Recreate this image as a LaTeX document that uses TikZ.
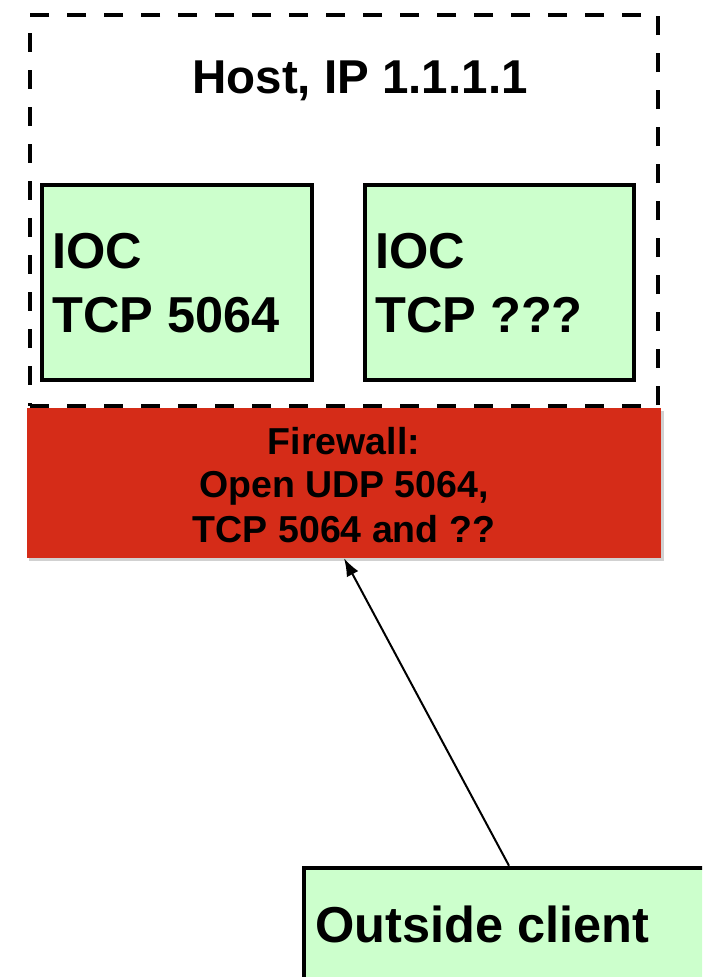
\documentclass[tikz,border=0pt]{standalone}
\usepackage{fontspec}
\setmainfont{Liberation Sans}
\usetikzlibrary{arrows.meta}
\definecolor{iocgreen}{RGB}{204,255,204}
\definecolor{fwred}{RGB}{213,44,24}
\begin{document}
\begin{tikzpicture}[x=1pt,y=-1pt,
  hostbox/.style={draw=black,line width=4.5pt,dash pattern=on 19pt off 18pt,rectangle,inner sep=0pt},
  greenbox/.style={draw=black,line width=4.5pt,fill=iocgreen,rectangle,inner sep=0pt},
  fwbox/.style={fill=fwred,rectangle,inner sep=0pt},
  bigtxt/.style={font=\fontsize{50.5}{64}\selectfont\bfseries,inner sep=0pt,anchor=base west},
  fwtxt/.style={font=\fontsize{37.5}{44}\selectfont\bfseries,inner sep=0pt,anchor=base},
  conn/.style={line width=2pt,-{Latex[length=18pt,width=13pt]}}]
\useasboundingbox (0,0) rectangle (702,977);
\clip (0,0) rectangle (702,977);
% host
\node[hostbox,minimum width=628,minimum height=391] (host) at (344,210.5) {};
\node[font=\fontsize{47.5}{56}\selectfont\bfseries,inner sep=0pt,anchor=base] (hostlbl) at (360,93) {Host, IP 1.1.1.1};
% IOCs
\node[greenbox,minimum width=270,minimum height=195] (ioc1) at (177,282.5) {};
\node[bigtxt] (ioc1a) at (52,268) {IOC};
\node[bigtxt] (ioc1b) at (52,332) {TCP 5064};
\node[greenbox,minimum width=269,minimum height=195] (ioc2) at (499.5,282.5) {};
\node[bigtxt] (ioc2a) at (375,268) {IOC};
\node[bigtxt] (ioc2b) at (375,332) {TCP ???};
% firewall
\fill[black,opacity=0.18] (29,411) rectangle (664,561);
\node[fwbox,minimum width=634,minimum height=150] (fw) at (344,483) {};
\node[fwtxt] (fw1) at (344,454) {Firewall:};
\node[fwtxt] (fw2) at (344,497) {Open UDP 5064,};
\node[fwtxt] (fw3) at (344,542) {TCP 5064 and ??};
% client
\node[greenbox,minimum width=410,minimum height=130] (client) at (509,933) {};
\node[font=\fontsize{50.5}{60}\selectfont\bfseries,inner sep=0pt,anchor=base west] (clientlbl) at (315,942) {Outside client};
\draw[conn] (client.north) -- (fw.south);
\end{tikzpicture}
\end{document}
